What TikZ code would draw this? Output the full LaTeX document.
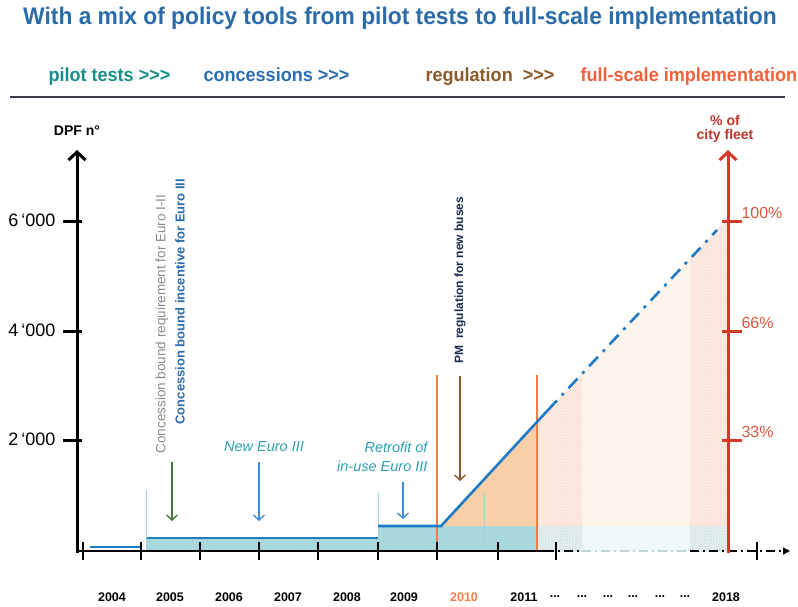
\documentclass[tikz,border=0pt]{standalone}
\usepackage{fontspec}
\setmainfont{Liberation Sans}
\newfontfamily\narrowfont[FakeStretch=0.95]{Liberation Sans}
\usetikzlibrary{patterns,arrows.meta}

\definecolor{titleblue}{HTML}{2B6CA8}
\definecolor{pilotteal}{HTML}{178F88}
\definecolor{concblue}{HTML}{2A6DB0}
\definecolor{regbrown}{HTML}{8B5A2B}
\definecolor{fullorange}{HTML}{F2603A}
\definecolor{rulecol}{HTML}{3A3A48}
\definecolor{fleetred}{HTML}{D43A2C}
\definecolor{pctred}{HTML}{D9573E}
\definecolor{lineblue}{HTML}{1E7BC6}
\definecolor{tealfill}{HTML}{A9D8DC}
\definecolor{orangefill}{HTML}{F8CFA6}
\definecolor{paleorange}{HTML}{FDF4EC}
\definecolor{vorange}{HTML}{F47B47}
\definecolor{thinblue}{HTML}{9CD3E0}
\definecolor{arrowblue}{HTML}{3D8FD6}
\definecolor{arrowgreen}{HTML}{3F7A3A}
\definecolor{italteal}{HTML}{2AA0B0}
\definecolor{greytext}{HTML}{8A8A8A}
\definecolor{pmnavy}{HTML}{1A2A50}

\tikzset{
  titulo/.style={font=\narrowfont\bfseries\fontsize{24}{28}\selectfont, text=titleblue},
  fase/.style={anchor=base west, font=\narrowfont\bfseries\fontsize{19}{22}\selectfont},
  ano/.style={font=\bfseries\fontsize{12.5}{14}\selectfont},
  eixoy/.style={font=\fontsize{18}{20}\selectfont, anchor=east},
  pct/.style={font=\fontsize{16}{18}\selectfont, text=pctred, anchor=west},
  seta/.style={line width=1.4, -{Straight Barb[length=5pt,width=11pt]}},
  grossa/.style={line width=3, -{Straight Barb[length=8pt,width=17pt]}},
  dado/.style={line width=2.6, lineblue},
  italico/.style={font=\itshape\fontsize{14.5}{18}\selectfont, text=italteal}
}

\begin{document}
\begin{tikzpicture}[x=1pt,y=-1pt]
\useasboundingbox (0,0) rectangle (798,606);

\node[titulo] (title) at (400,18) {With a mix of policy tools from pilot tests to full-scale implementation};

\node[fase, text=pilotteal] (pilot) at (45,81) {pilot tests >>>};
\node[fase, text=concblue] (conc) at (200,81) {concessions >>>};
\node[fase, text=regbrown] (reg) at (422,81) {regulation \ >>>};
\node[fase, text=fullorange] (full) at (577,81) {full-scale implementation};
\draw[rulecol, line width=1.3] (10,97) -- (785,97);

% areas
\fill[paleorange] (537,551) -- (537,422) -- (725,221) -- (728,221) -- (728,551) -- cycle;
\begin{scope}
  \clip (537,526) -- (537,422) -- (725,221) -- (728,221) -- (728,526) -- cycle;
  \fill[pattern=crosshatch, pattern color=vorange!25] (537,200) rectangle (582,526);
  \fill[pattern=crosshatch, pattern color=vorange!25] (690,200) rectangle (728,526);
\end{scope}
\fill[thinblue!15] (582,526) rectangle (690,551);
\fill[pattern=crosshatch, pattern color=thinblue!60] (537,526) rectangle (582,551);
\fill[pattern=crosshatch, pattern color=thinblue!60] (690,526) rectangle (728,551);

\fill[tealfill] (146,538) rectangle (378,551);
\fill[tealfill] (378,526) rectangle (537,551);
\fill[orangefill] (441,526) -- (537,422) -- (537,526) -- cycle;

\draw[thinblue, line width=0.8] (146,490) -- (146,551);
\draw[thinblue, line width=0.8] (378,493) -- (378,526);
\draw[thinblue, line width=0.8] (484,493) -- (484,551);
\draw[vorange, line width=1.3] (437,375) -- (437,551);
\draw[vorange, line width=1.3] (537,375) -- (537,551);

% linha azul
\draw[dado] (90,547) -- (141,547);
\draw[dado] (147,538) -- (378,538);
\draw[dado] (378,526) -- (441,526) -- (548,410);
\draw[dado, dash pattern=on 13pt off 7pt on 3pt off 7pt] (548,410) -- (717,230);

% eixo x
\draw[line width=1.3] (77,551) -- (545,551);
\draw[line width=1.3, dash pattern=on 9pt off 4pt on 2pt off 4pt] (545,551) -- (582,551);
\draw[thinblue!80!black!50, line width=1.1, dash pattern=on 9pt off 4pt on 2pt off 4pt] (582,551) -- (690,551);
\draw[line width=1.3, dash pattern=on 9pt off 4pt on 2pt off 4pt, -{Triangle[length=7pt,width=7pt]}] (690,551) -- (790,551);
\foreach \x in {83,141,200,259,318,378,437,498,556,757}
  \draw[line width=1.6] (\x,542) -- (\x,560);

\foreach \x/\a in {112/2004,170/2005,229/2006,288/2007,347/2008,404/2009,524/2011,726/2018}
  \node[ano] (ano\a) at (\x,597) {\a};
\node[ano, text=vorange] (ano2010) at (464,597) {2010};
\foreach \x [count=\i] in {555,582,608,633,660,685}
  \node[ano] (pontos\i) at (\x,597) {...};

% eixo y
\draw[grossa] (77,553) -- (77,150);
\node[font=\bfseries\fontsize{14}{16}\selectfont] (dpf) at (77,131) {DPF n°};
\foreach \y/\t in {221/6,331/4,440/2} {
  \draw[line width=3] (63,\y) -- (82,\y);
  \node[eixoy] at (59,\y-1) {\t\,‘000};
}

% eixo da frota
\draw[grossa, fleetred] (728,553) -- (728,150);
\node[font=\bfseries\fontsize{14}{16}\selectfont, text=fleetred!90!black, align=center] (frota) at (725,129) {\% of\\[-2pt]city fleet};
\foreach \y/\t in {221/100,331/66,440/33} {
  \draw[line width=3, fleetred] (722,\y) -- (742,\y);
  \node[pct] at (738,\y-8) {\t\%};
}

% textos e setas
\node[rotate=90, anchor=west, text=greytext, font=\fontsize{13.5}{16}\selectfont] (req) at (162,457) {Concession bound requirement for Euro I-II};
\node[rotate=90, anchor=west, text=concblue, font=\bfseries\fontsize{13}{16}\selectfont] (inc) at (180,428) {Concession bound incentive for Euro III};
\coordinate (g1) at (172,462);
\coordinate (g2) at (172,521);
\draw[seta, arrowgreen] (g1) -- (g2);

\node[italico] (neweuro) at (264,447) {New Euro III};
\coordinate (b1) at (259,462);
\coordinate (b2) at (259,521);
\draw[seta, arrowblue] (b1) -- (b2);

\node[italico, anchor=east] (retro1) at (431,447) {Retrofit of};
\node[italico, anchor=east] (retro2) at (431,466) {in-use Euro III};
\coordinate (r1) at (403,482);
\coordinate (r2) at (403,519);
\draw[seta, arrowblue] (r1) -- (r2);

\node[rotate=90, anchor=west, text=pmnavy, font=\bfseries\fontsize{12}{16}\selectfont] (pm) at (460,367) {PM \ regulation for new buses};
\coordinate (m1) at (460,376);
\coordinate (m2) at (460,481);
\draw[seta, regbrown] (m1) -- (m2);

\end{tikzpicture}
\end{document}
